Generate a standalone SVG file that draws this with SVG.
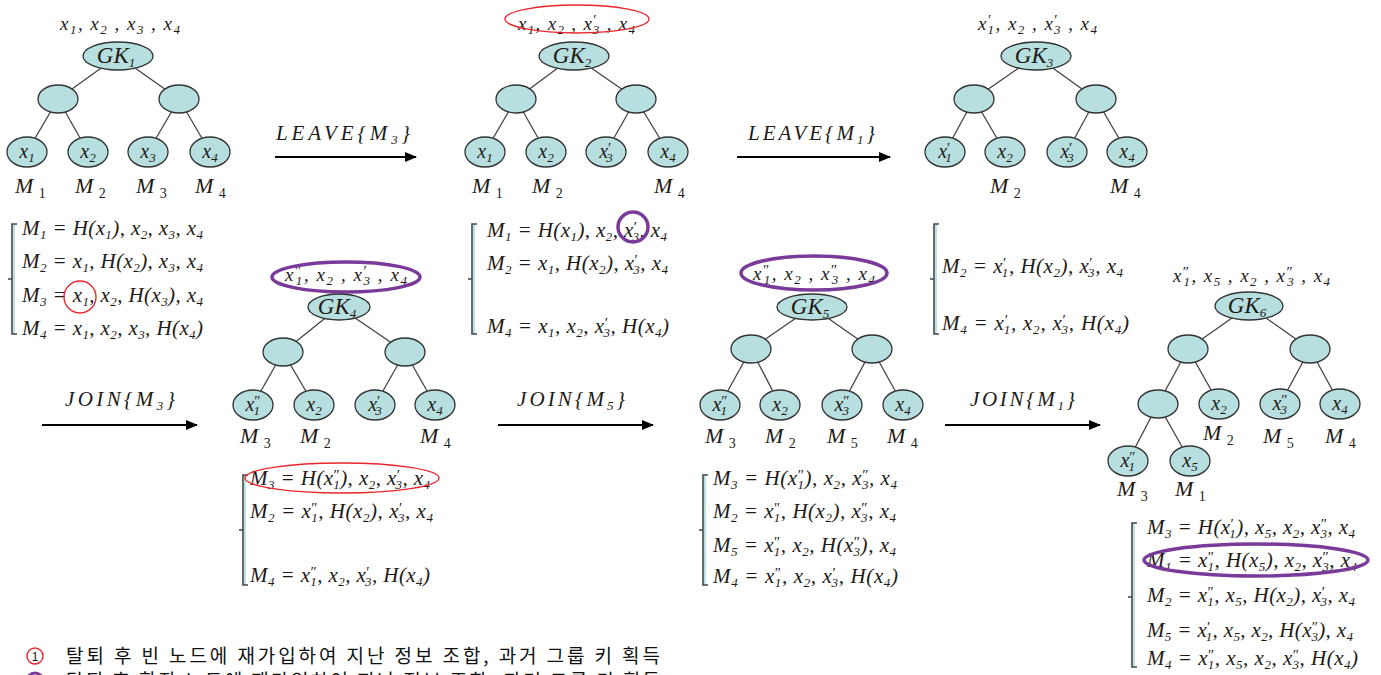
<svg xmlns="http://www.w3.org/2000/svg" width="1381" height="675" viewBox="0 0 1381 675">
<defs>
<marker id="ah" viewBox="0 0 12 10" refX="11" refY="5" markerWidth="12" markerHeight="10" markerUnits="userSpaceOnUse" orient="auto">
<path d="M0,0 L12,5 L0,10 z" fill="#000"/>
</marker>
<style>
.n{fill:#b8dfe0;stroke:#333;stroke-width:1.3}
.e{stroke:#444;stroke-width:1.3}
.ar{stroke:#000;stroke-width:2.2;fill:none;marker-end:url(#ah)}
.t{font-family:"Liberation Serif","Times New Roman",serif;font-style:italic;fill:#1e1a16}
.lf{font-size:20px}
.gk{font-size:23px}
.tl{font-size:19px}
.m{font-size:22px}
.f{font-size:21px}
.al{font-size:21px}
.b{font-size:13px;baseline-shift:-4px}
.mb{font-size:14px;baseline-shift:-5px;font-style:normal}
.p{font-size:15px;baseline-shift:5px;font-style:normal}
.br{fill:none;stroke:#3d4a4a;stroke-width:1.6}
.brf{stroke:#bfe0e0;stroke-width:2}
.rc{fill:none;stroke:#e8262c;stroke-width:1.4}
.pc{fill:none;stroke:#7a3a9a;stroke-width:3.5}
.lg{font-family:"Noto Sans CJK KR","Noto Sans",sans-serif;font-size:19px;fill:#111}
</style>
</defs>

<g id="connectors">
<line class="e" x1="118" y1="56" x2="58" y2="99"/><line class="e" x1="118" y1="56" x2="179" y2="99"/>
<line class="e" x1="58" y1="99" x2="27" y2="152"/><line class="e" x1="58" y1="99" x2="88" y2="152"/>
<line class="e" x1="179" y1="99" x2="148" y2="152"/><line class="e" x1="179" y1="99" x2="210" y2="152"/>
<line class="e" x1="574" y1="56" x2="516" y2="99"/><line class="e" x1="574" y1="56" x2="636" y2="99"/>
<line class="e" x1="516" y1="99" x2="485" y2="152"/><line class="e" x1="516" y1="99" x2="546" y2="152"/>
<line class="e" x1="636" y1="99" x2="606" y2="152"/><line class="e" x1="636" y1="99" x2="668" y2="152"/>
<line class="e" x1="1036" y1="56" x2="974" y2="99"/><line class="e" x1="1036" y1="56" x2="1096" y2="99"/>
<line class="e" x1="974" y1="99" x2="945" y2="152"/><line class="e" x1="974" y1="99" x2="1005" y2="152"/>
<line class="e" x1="1096" y1="99" x2="1067" y2="152"/><line class="e" x1="1096" y1="99" x2="1127" y2="152"/>
<line class="e" x1="339" y1="307" x2="283" y2="352"/><line class="e" x1="339" y1="307" x2="405" y2="352"/>
<line class="e" x1="283" y1="352" x2="253" y2="405"/><line class="e" x1="283" y1="352" x2="314" y2="405"/>
<line class="e" x1="405" y1="352" x2="375" y2="405"/><line class="e" x1="405" y1="352" x2="435" y2="405"/>
<line class="e" x1="812" y1="307" x2="751" y2="349"/><line class="e" x1="812" y1="307" x2="872" y2="349"/>
<line class="e" x1="751" y1="349" x2="720" y2="405"/><line class="e" x1="751" y1="349" x2="780" y2="405"/>
<line class="e" x1="872" y1="349" x2="842" y2="405"/><line class="e" x1="872" y1="349" x2="903" y2="405"/>
<line class="e" x1="1249" y1="306" x2="1188" y2="349"/><line class="e" x1="1249" y1="306" x2="1310" y2="349"/>
<line class="e" x1="1188" y1="349" x2="1158" y2="404"/><line class="e" x1="1188" y1="349" x2="1219" y2="404"/>
<line class="e" x1="1310" y1="349" x2="1280" y2="404"/><line class="e" x1="1310" y1="349" x2="1340" y2="404"/>
<line class="e" x1="1158" y1="404" x2="1128" y2="461"/><line class="e" x1="1158" y1="404" x2="1190" y2="461"/>
<line class="ar" x1="275" y1="157" x2="416" y2="157"/>
<line class="ar" x1="737" y1="157" x2="890" y2="157"/>
<line class="ar" x1="42" y1="425" x2="197" y2="425"/>
<line class="ar" x1="498" y1="425" x2="653" y2="425"/>
<line class="ar" x1="945" y1="425" x2="1100" y2="425"/>
</g>

<g id="labels">
<text class="t al" x="276" y="140" textLength="134" lengthAdjust="spacing">LEAVE{M<tspan class="b">3</tspan>}</text>
<text class="t al" x="748" y="140" textLength="127" lengthAdjust="spacing">LEAVE{M<tspan class="b">1</tspan>}</text>
<text class="t al" x="65" y="406" textLength="110" lengthAdjust="spacing">JOIN{M<tspan class="b">3</tspan>}</text>
<text class="t al" x="517" y="406" textLength="108" lengthAdjust="spacing">JOIN{M<tspan class="b">5</tspan>}</text>
<text class="t al" x="970" y="406" textLength="105" lengthAdjust="spacing">JOIN{M<tspan class="b">1</tspan>}</text>
</g>

<g id="tree1">
<text class="t tl" x="60" y="30" textLength="120" lengthAdjust="spacing">x<tspan class="b">1</tspan>, x<tspan class="b">2</tspan> , x<tspan class="b">3</tspan> , x<tspan class="b">4</tspan></text>
<g id="gk1"><ellipse class="n" cx="118" cy="56" rx="35" ry="14"/><text class="t gk" x="116" y="63" text-anchor="middle">GK<tspan class="b">1</tspan></text></g>
<g id="t1m1"><ellipse class="n" cx="58" cy="99" rx="20" ry="14"/></g>
<g id="t1m2"><ellipse class="n" cx="179" cy="99" rx="20" ry="14"/></g>
<g id="t1l1"><ellipse class="n" cx="27" cy="152" rx="20" ry="15"/><text class="t lf" x="27" y="158" text-anchor="middle">x<tspan class="b">1</tspan></text></g>
<g id="t1l2"><ellipse class="n" cx="88" cy="152" rx="20" ry="15"/><text class="t lf" x="88" y="158" text-anchor="middle">x<tspan class="b">2</tspan></text></g>
<g id="t1l3"><ellipse class="n" cx="148" cy="152" rx="20" ry="15"/><text class="t lf" x="148" y="158" text-anchor="middle">x<tspan class="b">3</tspan></text></g>
<g id="t1l4"><ellipse class="n" cx="210" cy="152" rx="20" ry="15"/><text class="t lf" x="210" y="158" text-anchor="middle">x<tspan class="b">4</tspan></text></g>
<text class="t m" x="15" y="193">M <tspan class="mb">1</tspan></text>
<text class="t m" x="75" y="193">M <tspan class="mb">2</tspan></text>
<text class="t m" x="136" y="193">M <tspan class="mb">3</tspan></text>
<text class="t m" x="195" y="193">M <tspan class="mb">4</tspan></text>
</g>

<g id="formulas1">
<path class="brf" d="M14,224 V334"/>
<path class="br" d="M17,224 H12 V334 H17 M12,279 H8"/>
<text class="t f" x="22" y="235" textLength="181" lengthAdjust="spacing">M<tspan class="b">1</tspan> = H(x<tspan class="b">1</tspan>), x<tspan class="b">2</tspan>, x<tspan class="b">3</tspan>, x<tspan class="b">4</tspan></text>
<text class="t f" x="22" y="268" textLength="181" lengthAdjust="spacing">M<tspan class="b">2</tspan> = x<tspan class="b">1</tspan>, H(x<tspan class="b">2</tspan>), x<tspan class="b">3</tspan>, x<tspan class="b">4</tspan></text>
<text class="t f" x="22" y="302" textLength="181" lengthAdjust="spacing">M<tspan class="b">3</tspan> = x<tspan class="b">1</tspan>, x<tspan class="b">2</tspan>, H(x<tspan class="b">3</tspan>), x<tspan class="b">4</tspan></text>
<text class="t f" x="22" y="335" textLength="181" lengthAdjust="spacing">M<tspan class="b">4</tspan> = x<tspan class="b">1</tspan>, x<tspan class="b">2</tspan>, x<tspan class="b">3</tspan>, H(x<tspan class="b">4</tspan>)</text>
<circle class="rc" cx="80" cy="297" r="16"/>
</g>

<g id="tree2">
<text class="t tl" x="518" y="30" textLength="117" lengthAdjust="spacing">x<tspan class="b">1</tspan>, x<tspan class="b">2</tspan> , x<tspan class="p">′</tspan><tspan class="b" dx="-5">3</tspan> , x<tspan class="b">4</tspan></text>
<ellipse class="rc" cx="577" cy="19" rx="72" ry="14"/>
<g id="gk2"><ellipse class="n" cx="574" cy="56" rx="35" ry="14"/><text class="t gk" x="572" y="63" text-anchor="middle">GK<tspan class="b">2</tspan></text></g>
<g id="t2m1"><ellipse class="n" cx="516" cy="99" rx="20" ry="14"/></g>
<g id="t2m2"><ellipse class="n" cx="636" cy="99" rx="20" ry="14"/></g>
<g id="t2l1"><ellipse class="n" cx="485" cy="152" rx="20" ry="15"/><text class="t lf" x="485" y="158" text-anchor="middle">x<tspan class="b">1</tspan></text></g>
<g id="t2l2"><ellipse class="n" cx="546" cy="152" rx="20" ry="15"/><text class="t lf" x="546" y="158" text-anchor="middle">x<tspan class="b">2</tspan></text></g>
<g id="t2l3"><ellipse class="n" cx="606" cy="152" rx="20" ry="15"/><text class="t lf" x="606" y="158" text-anchor="middle">x<tspan class="p">′</tspan><tspan class="b" dx="-5">3</tspan></text></g>
<g id="t2l4"><ellipse class="n" cx="668" cy="152" rx="20" ry="15"/><text class="t lf" x="668" y="158" text-anchor="middle">x<tspan class="b">4</tspan></text></g>
<text class="t m" x="472" y="193">M <tspan class="mb">1</tspan></text>
<text class="t m" x="532" y="193">M <tspan class="mb">2</tspan></text>
<text class="t m" x="654" y="193">M <tspan class="mb">4</tspan></text>
</g>

<g id="formulas2">
<path class="brf" d="M474,224 V334"/>
<path class="br" d="M477,224 H472 V334 H477 M472,279 H468"/>
<text class="t f" x="487" y="237" textLength="180" lengthAdjust="spacing">M<tspan class="b">1</tspan> = H(x<tspan class="b">1</tspan>), x<tspan class="b">2</tspan>, x<tspan class="p">′</tspan><tspan class="b" dx="-5">3</tspan>, x<tspan class="b">4</tspan></text>
<text class="t f" x="487" y="270" textLength="181" lengthAdjust="spacing">M<tspan class="b">2</tspan> = x<tspan class="b">1</tspan>, H(x<tspan class="b">2</tspan>), x<tspan class="p">′</tspan><tspan class="b" dx="-5">3</tspan>, x<tspan class="b">4</tspan></text>
<text class="t f" x="487" y="333" textLength="182" lengthAdjust="spacing">M<tspan class="b">4</tspan> = x<tspan class="b">1</tspan>, x<tspan class="b">2</tspan>, x<tspan class="p">′</tspan><tspan class="b" dx="-5">3</tspan>, H(x<tspan class="b">4</tspan>)</text>
<circle class="pc" cx="633" cy="227" r="15"/>
</g>

<g id="tree3">
<text class="t tl" x="978" y="30" textLength="119" lengthAdjust="spacing">x<tspan class="p">′</tspan><tspan class="b" dx="-5">1</tspan>, x<tspan class="b">2</tspan> , x<tspan class="p">′</tspan><tspan class="b" dx="-5">3</tspan> , x<tspan class="b">4</tspan></text>
<g id="gk3"><ellipse class="n" cx="1036" cy="56" rx="35" ry="14"/><text class="t gk" x="1034" y="63" text-anchor="middle">GK<tspan class="b">3</tspan></text></g>
<g id="t3m1"><ellipse class="n" cx="974" cy="99" rx="20" ry="14"/></g>
<g id="t3m2"><ellipse class="n" cx="1096" cy="99" rx="20" ry="14"/></g>
<g id="t3l1"><ellipse class="n" cx="945" cy="152" rx="20" ry="15"/><text class="t lf" x="945" y="158" text-anchor="middle">x<tspan class="p">′</tspan><tspan class="b" dx="-5">1</tspan></text></g>
<g id="t3l2"><ellipse class="n" cx="1005" cy="152" rx="20" ry="15"/><text class="t lf" x="1005" y="158" text-anchor="middle">x<tspan class="b">2</tspan></text></g>
<g id="t3l3"><ellipse class="n" cx="1067" cy="152" rx="20" ry="15"/><text class="t lf" x="1067" y="158" text-anchor="middle">x<tspan class="p">′</tspan><tspan class="b" dx="-5">3</tspan></text></g>
<g id="t3l4"><ellipse class="n" cx="1127" cy="152" rx="20" ry="15"/><text class="t lf" x="1127" y="158" text-anchor="middle">x<tspan class="b">4</tspan></text></g>
<text class="t m" x="990" y="193">M <tspan class="mb">2</tspan></text>
<text class="t m" x="1110" y="193">M <tspan class="mb">4</tspan></text>
</g>

<g id="formulas3">
<path class="brf" d="M936,224 V334"/>
<path class="br" d="M939,224 H934 V334 H939 M934,279 H930"/>
<text class="t f" x="942" y="273" textLength="181" lengthAdjust="spacing">M<tspan class="b">2</tspan> = x<tspan class="p">′</tspan><tspan class="b" dx="-5">1</tspan>, H(x<tspan class="b">2</tspan>), x<tspan class="p">′</tspan><tspan class="b" dx="-5">3</tspan>, x<tspan class="b">4</tspan></text>
<text class="t f" x="942" y="330" textLength="187" lengthAdjust="spacing">M<tspan class="b">4</tspan> = x<tspan class="p">′</tspan><tspan class="b" dx="-5">1</tspan>, x<tspan class="b">2</tspan>, x<tspan class="p">′</tspan><tspan class="b" dx="-5">3</tspan>, H(x<tspan class="b">4</tspan>)</text>
</g>

<g id="tree4">
<text class="t tl" x="285" y="281" textLength="122" lengthAdjust="spacing">x<tspan class="p">″</tspan><tspan class="b" dx="-7">1</tspan>, x<tspan class="b">2</tspan> , x<tspan class="p">′</tspan><tspan class="b" dx="-5">3</tspan> , x<tspan class="b">4</tspan></text>
<ellipse class="pc" cx="346" cy="277" rx="74" ry="15"/>
<g id="gk4"><ellipse class="n" cx="339" cy="307" rx="31" ry="13"/><text class="t gk" x="337" y="314" text-anchor="middle">GK<tspan class="b">4</tspan></text></g>
<g id="t4m1"><ellipse class="n" cx="283" cy="352" rx="20" ry="14"/></g>
<g id="t4m2"><ellipse class="n" cx="405" cy="352" rx="20" ry="14"/></g>
<g id="t4l1"><ellipse class="n" cx="253" cy="405" rx="20" ry="15"/><text class="t lf" x="253" y="411" text-anchor="middle">x<tspan class="p">″</tspan><tspan class="b" dx="-7">1</tspan></text></g>
<g id="t4l2"><ellipse class="n" cx="314" cy="405" rx="20" ry="15"/><text class="t lf" x="314" y="411" text-anchor="middle">x<tspan class="b">2</tspan></text></g>
<g id="t4l3"><ellipse class="n" cx="375" cy="405" rx="20" ry="15"/><text class="t lf" x="375" y="411" text-anchor="middle">x<tspan class="p">′</tspan><tspan class="b" dx="-5">3</tspan></text></g>
<g id="t4l4"><ellipse class="n" cx="435" cy="405" rx="20" ry="15"/><text class="t lf" x="435" y="411" text-anchor="middle">x<tspan class="b">4</tspan></text></g>
<text class="t m" x="240" y="443">M <tspan class="mb">3</tspan></text>
<text class="t m" x="300" y="443">M <tspan class="mb">2</tspan></text>
<text class="t m" x="420" y="443">M <tspan class="mb">4</tspan></text>
</g>

<g id="formulas4">
<path class="brf" d="M245,475 V585"/>
<path class="br" d="M248,475 H243 V585 H248 M243,530 H239"/>
<text class="t f" x="250" y="485" textLength="180" lengthAdjust="spacing">M<tspan class="b">3</tspan> = H(x<tspan class="p">″</tspan><tspan class="b" dx="-7">1</tspan>), x<tspan class="b">2</tspan>, x<tspan class="p">′</tspan><tspan class="b" dx="-5">3</tspan>, x<tspan class="b">4</tspan></text>
<text class="t f" x="250" y="518" textLength="183" lengthAdjust="spacing">M<tspan class="b">2</tspan> = x<tspan class="p">″</tspan><tspan class="b" dx="-7">1</tspan>, H(x<tspan class="b">2</tspan>), x<tspan class="p">′</tspan><tspan class="b" dx="-5">3</tspan>, x<tspan class="b">4</tspan></text>
<text class="t f" x="250" y="582" textLength="180" lengthAdjust="spacing">M<tspan class="b">4</tspan> = x<tspan class="p">″</tspan><tspan class="b" dx="-7">1</tspan>, x<tspan class="b">2</tspan>, x<tspan class="p">′</tspan><tspan class="b" dx="-5">3</tspan>, H(x<tspan class="b">4</tspan>)</text>
<ellipse class="rc" cx="342" cy="478" rx="97" ry="15"/>
</g>

<g id="tree5">
<text class="t tl" x="753" y="280" textLength="122" lengthAdjust="spacing">x<tspan class="p">″</tspan><tspan class="b" dx="-7">1</tspan>, x<tspan class="b">2</tspan> , x<tspan class="p">″</tspan><tspan class="b" dx="-7">3</tspan> , x<tspan class="b">4</tspan></text>
<ellipse class="pc" cx="814" cy="273" rx="73" ry="17"/>
<g id="gk5"><ellipse class="n" cx="812" cy="307" rx="35" ry="13"/><text class="t gk" x="810" y="314" text-anchor="middle">GK<tspan class="b">5</tspan></text></g>
<g id="t5m1"><ellipse class="n" cx="751" cy="349" rx="20" ry="14"/></g>
<g id="t5m2"><ellipse class="n" cx="872" cy="349" rx="20" ry="14"/></g>
<g id="t5l1"><ellipse class="n" cx="720" cy="405" rx="20" ry="15"/><text class="t lf" x="720" y="411" text-anchor="middle">x<tspan class="p">″</tspan><tspan class="b" dx="-7">1</tspan></text></g>
<g id="t5l2"><ellipse class="n" cx="780" cy="405" rx="20" ry="15"/><text class="t lf" x="780" y="411" text-anchor="middle">x<tspan class="b">2</tspan></text></g>
<g id="t5l3"><ellipse class="n" cx="842" cy="405" rx="20" ry="15"/><text class="t lf" x="842" y="411" text-anchor="middle">x<tspan class="p">″</tspan><tspan class="b" dx="-7">3</tspan></text></g>
<g id="t5l4"><ellipse class="n" cx="903" cy="405" rx="20" ry="15"/><text class="t lf" x="903" y="411" text-anchor="middle">x<tspan class="b">4</tspan></text></g>
<text class="t m" x="705" y="443">M <tspan class="mb">3</tspan></text>
<text class="t m" x="765" y="443">M <tspan class="mb">2</tspan></text>
<text class="t m" x="827" y="443">M <tspan class="mb">5</tspan></text>
<text class="t m" x="887" y="443">M <tspan class="mb">4</tspan></text>
</g>

<g id="formulas5">
<path class="brf" d="M705,475 V585"/>
<path class="br" d="M708,475 H703 V585 H708 M703,530 H699"/>
<text class="t f" x="713" y="485" textLength="184" lengthAdjust="spacing">M<tspan class="b">3</tspan> = H(x<tspan class="p">″</tspan><tspan class="b" dx="-7">1</tspan>), x<tspan class="b">2</tspan>, x<tspan class="p">″</tspan><tspan class="b" dx="-7">3</tspan>, x<tspan class="b">4</tspan></text>
<text class="t f" x="713" y="518" textLength="183" lengthAdjust="spacing">M<tspan class="b">2</tspan> = x<tspan class="p">″</tspan><tspan class="b" dx="-7">1</tspan>, H(x<tspan class="b">2</tspan>), x<tspan class="p">″</tspan><tspan class="b" dx="-7">3</tspan>, x<tspan class="b">4</tspan></text>
<text class="t f" x="713" y="552" textLength="183" lengthAdjust="spacing">M<tspan class="b">5</tspan> = x<tspan class="p">″</tspan><tspan class="b" dx="-7">1</tspan>, x<tspan class="b">2</tspan>, H(x<tspan class="p">″</tspan><tspan class="b" dx="-7">3</tspan>), x<tspan class="b">4</tspan></text>
<text class="t f" x="713" y="583" textLength="185" lengthAdjust="spacing">M<tspan class="b">4</tspan> = x<tspan class="p">″</tspan><tspan class="b" dx="-7">1</tspan>, x<tspan class="b">2</tspan>, x<tspan class="p">′</tspan><tspan class="b" dx="-5">3</tspan>, H(x<tspan class="b">4</tspan>)</text>
</g>

<g id="tree6">
<text class="t tl" x="1173" y="282" textLength="157" lengthAdjust="spacing">x<tspan class="p">″</tspan><tspan class="b" dx="-7">1</tspan>, x<tspan class="b">5</tspan> , x<tspan class="b">2</tspan> , x<tspan class="p">″</tspan><tspan class="b" dx="-7">3</tspan> , x<tspan class="b">4</tspan></text>
<g id="gk6"><ellipse class="n" cx="1249" cy="306" rx="34" ry="14"/><text class="t gk" x="1247" y="313" text-anchor="middle">GK<tspan class="b">6</tspan></text></g>
<g id="t6m1"><ellipse class="n" cx="1188" cy="349" rx="20" ry="14"/></g>
<g id="t6m2"><ellipse class="n" cx="1310" cy="349" rx="20" ry="14"/></g>
<g id="t6m3"><ellipse class="n" cx="1158" cy="404" rx="20" ry="14"/></g>
<g id="t6l2"><ellipse class="n" cx="1219" cy="404" rx="20" ry="15"/><text class="t lf" x="1219" y="410" text-anchor="middle">x<tspan class="b">2</tspan></text></g>
<g id="t6l3"><ellipse class="n" cx="1280" cy="404" rx="20" ry="15"/><text class="t lf" x="1280" y="410" text-anchor="middle">x<tspan class="p">″</tspan><tspan class="b" dx="-7">3</tspan></text></g>
<g id="t6l4"><ellipse class="n" cx="1340" cy="404" rx="20" ry="15"/><text class="t lf" x="1340" y="410" text-anchor="middle">x<tspan class="b">4</tspan></text></g>
<g id="t6l1"><ellipse class="n" cx="1128" cy="461" rx="20" ry="15"/><text class="t lf" x="1128" y="467" text-anchor="middle">x<tspan class="p">″</tspan><tspan class="b" dx="-7">1</tspan></text></g>
<g id="t6l5"><ellipse class="n" cx="1190" cy="461" rx="20" ry="15"/><text class="t lf" x="1190" y="467" text-anchor="middle">x<tspan class="b">5</tspan></text></g>
<text class="t m" x="1203" y="440">M <tspan class="mb">2</tspan></text>
<text class="t m" x="1263" y="443">M <tspan class="mb">5</tspan></text>
<text class="t m" x="1325" y="443">M <tspan class="mb">4</tspan></text>
<text class="t m" x="1117" y="496">M <tspan class="mb">3</tspan></text>
<text class="t m" x="1175" y="496">M <tspan class="mb">1</tspan></text>
</g>

<g id="formulas6">
<path class="brf" d="M1134,523 V667"/>
<path class="br" d="M1137,523 H1132 V667 H1137 M1132,597 H1128"/>
<text class="t f" x="1147" y="534" textLength="208" lengthAdjust="spacing">M<tspan class="b">3</tspan> = H(x<tspan class="p">′</tspan><tspan class="b" dx="-5">1</tspan>), x<tspan class="b">5</tspan>, x<tspan class="b">2</tspan>, x<tspan class="p">″</tspan><tspan class="b" dx="-7">3</tspan>, x<tspan class="b">4</tspan></text>
<text class="t f" x="1147" y="567" textLength="210" lengthAdjust="spacing">M<tspan class="b">1</tspan> = x<tspan class="p">″</tspan><tspan class="b" dx="-7">1</tspan>, H(x<tspan class="b">5</tspan>), x<tspan class="b">2</tspan>, x<tspan class="p">″</tspan><tspan class="b" dx="-7">3</tspan>, x<tspan class="b">4</tspan></text>
<text class="t f" x="1147" y="602" textLength="208" lengthAdjust="spacing">M<tspan class="b">2</tspan> = x<tspan class="p">″</tspan><tspan class="b" dx="-7">1</tspan>, x<tspan class="b">5</tspan>, H(x<tspan class="b">2</tspan>), x<tspan class="p">′</tspan><tspan class="b" dx="-5">3</tspan>, x<tspan class="b">4</tspan></text>
<text class="t f" x="1147" y="637" textLength="206" lengthAdjust="spacing">M<tspan class="b">5</tspan> = x<tspan class="p">′</tspan><tspan class="b" dx="-5">1</tspan>, x<tspan class="b">5</tspan>, x<tspan class="b">2</tspan>, H(x<tspan class="p">″</tspan><tspan class="b" dx="-7">3</tspan>), x<tspan class="b">4</tspan></text>
<text class="t f" x="1147" y="665" textLength="211" lengthAdjust="spacing">M<tspan class="b">4</tspan> = x<tspan class="p">″</tspan><tspan class="b" dx="-7">1</tspan>, x<tspan class="b">5</tspan>, x<tspan class="b">2</tspan>, x<tspan class="p">″</tspan><tspan class="b" dx="-7">3</tspan>, H(x<tspan class="b">4</tspan>)</text>
<ellipse class="pc" cx="1256" cy="560" rx="112" ry="16"/>
</g>

<g id="legend">
<circle cx="35" cy="656" r="8" fill="#fff" stroke="#e8262c" stroke-width="1.4"/>
<text x="35" y="661" text-anchor="middle" font-family="Liberation Sans,sans-serif" font-size="12" fill="#111">1</text>
<text class="lg" x="66" y="663" textLength="594" lengthAdjust="spacing">탈퇴 후 빈 노드에 재가입하여 지난 정보 조합, 과거 그룹 키 획득</text>
<circle cx="35" cy="681" r="8" fill="#fff" stroke="#7a3a9a" stroke-width="3"/>
<text class="lg" x="66" y="688" textLength="594" lengthAdjust="spacing">탈퇴 후 확장 노드에 재가입하여 지난 정보 조합, 과거 그룹 키 획득</text>
</g>
</svg>
